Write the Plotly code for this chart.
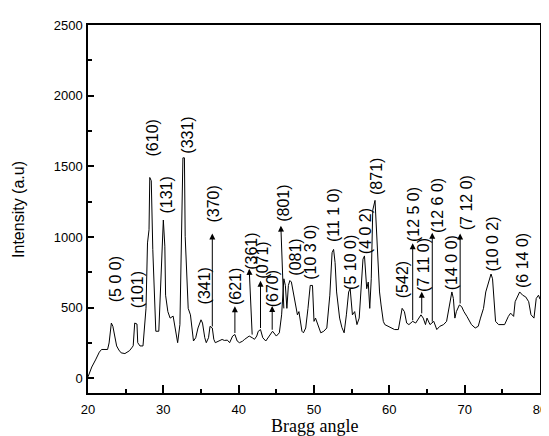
import plotly.graph_objects as go

# XRD pattern
bragg_angle = [20.0, 20.5, 21.0, 21.5, 21.8, 22.6, 22.8, 23.0, 23.1, 23.3, 23.5, 23.8, 24.1, 24.4, 24.9,
               25.5, 25.8, 26.0, 26.2, 26.5, 26.6, 26.9, 27.3, 27.4, 27.7, 27.9, 28.1, 28.2, 28.4, 28.6,
               28.8, 29.0, 29.4, 29.6, 29.8, 30.0, 30.2, 30.3, 30.6, 30.9, 31.3, 31.7, 31.9, 32.2, 32.4,
               32.6, 32.8, 32.9, 33.3, 33.6, 33.8, 34.0, 34.3, 34.6, 35.0, 35.2, 35.5, 35.7, 36.0, 36.2,
               36.5, 36.7, 36.9, 37.4, 37.8, 38.1, 38.5, 38.8, 39.2, 39.5, 39.8, 40.1, 40.5, 40.8, 41.1,
               41.4, 41.8, 42.1, 42.4, 42.6, 42.9, 43.2, 43.6, 44.1, 44.5, 45.0, 45.4, 45.7, 46.0, 46.2,
               46.4, 46.6, 46.8, 47.0, 47.3, 47.6, 47.8, 48.0, 48.2, 48.4, 48.6, 48.9, 49.2, 49.5, 49.8,
               50.0, 50.2, 50.5, 50.9, 51.3, 51.7, 52.1, 52.4, 52.6, 52.8, 53.0, 53.4, 53.7, 54.0, 54.3,
               54.6, 54.8, 55.1, 55.4, 55.7, 56.0, 56.3, 56.5, 56.7, 57.0, 57.2, 57.4, 57.6, 57.8, 58.1,
               58.3, 58.5, 58.7, 58.9, 59.2, 59.4, 59.9, 60.3, 60.7, 61.2, 61.4, 61.7, 62.0, 62.3, 62.6,
               63.1, 63.5, 63.9, 64.2, 64.5, 64.8, 65.0, 65.2, 65.4, 65.9, 66.3, 66.7, 67.2, 67.6, 68.0,
               68.3, 68.5, 68.7, 68.9, 69.3, 69.6, 69.9, 70.3, 70.6, 70.9, 71.4, 71.8, 72.1, 72.5, 72.8,
               73.2, 73.5, 73.7, 73.9, 74.1, 74.5, 74.9, 75.3, 75.8, 76.1, 76.5, 76.7, 77.3, 77.7, 78.1,
               78.5, 78.8, 79.2, 79.5, 79.8, 80.0]
intensity = [10, 80, 130, 185, 204, 204, 250, 370, 391, 368, 300, 229, 200, 180, 175,
             195, 215, 230, 391, 384, 252, 229, 229, 299, 495, 958, 1051, 1421, 1398, 912,
             681, 333, 333, 611, 935, 1120, 935, 588, 472, 426, 440, 310, 252, 380, 889,
             1560, 1560, 1005, 495, 449, 356, 264, 287, 356, 414, 391, 287, 252, 287, 368,
             356, 276, 252, 264, 275, 268, 270, 252, 299, 310, 264, 252, 262, 276, 285,
             299, 287, 276, 299, 333, 345, 287, 264, 299, 333, 299, 322, 449, 704, 657,
             495, 657, 692, 681, 588, 519, 449, 472, 403, 333, 322, 356, 495, 657, 657,
             403, 426, 380, 322, 333, 356, 588, 889, 912, 819, 611, 426, 360, 322, 449,
             611, 634, 449, 472, 380, 426, 704, 843, 866, 634, 681, 495, 704, 1190, 1259,
             1005, 773, 611, 519, 403, 380, 368, 356, 345, 345, 403, 495, 472, 391, 380,
             403, 391, 426, 449, 426, 380, 426, 403, 380, 403, 345, 368, 380, 403, 519,
             611, 565, 426, 472, 519, 507, 472, 438, 403, 380, 356, 368, 426, 495, 611,
             681, 738, 704, 565, 403, 380, 380, 380, 438, 461, 438, 542, 611, 588, 576,
             542, 450, 426, 565, 588, 560]

# Peak labels (Miller indices)
label_text = ["(5 0 0)", "(101)", "(610)", "(131)", "(331)", "(341)", "(370)", "(621)", "(361)",
              "(071)", "(670)", "(801)", "(081)", "(10 3 0)", "(11 1 0)", "(5 10 0)", "(4 0 2)",
              "(871)", "(542)", "(12 5 0)", "(7 11 0)", "(12 6 0)", "(14 0 0)", "(7 12 0)",
              "(10 0 2)", "(6 14 0)"]
label_x = [23.7, 26.6, 28.55, 30.4, 33.2, 35.4, 36.6, 39.5, 41.6,
           43.2, 44.5, 45.85, 47.6, 49.6, 52.6, 54.75, 56.75,
           58.2, 61.7, 63.2, 64.6, 66.3, 68.3, 70.2,
           73.7, 77.7]
label_y = [700, 628, 1700, 1296, 1720, 650, 1230, 652, 900,
           838, 634, 1240, 860, 895, 1152, 822, 1040,
           1430, 695, 1158, 802, 1225, 820, 1240,
           950, 835]

# Arrows: base (on the curve) -> tip
arrow_base_x = [36.5, 39.5, 41.8, 42.9, 44.45, 46.0, 63.1, 64.3, 65.7, 69.4]
arrow_base_y = [356, 310, 299, 345, 333, 484, 400, 449, 390, 519]
arrow_tip_x = [36.5, 39.5, 41.4, 42.9, 44.45, 45.6, 63.1, 64.3, 65.7, 69.4]
arrow_tip_y = [1025, 510, 775, 690, 512, 1080, 955, 612, 1030, 1025]

fig = go.Figure()
fig.add_trace(go.Scatter(x=bragg_angle, y=intensity, mode="lines",
                         line=dict(color="black", width=1), showlegend=False))

annotations = []
for t, x, y in zip(label_text, label_x, label_y):
    annotations.append(dict(x=x, y=y, xref="x", yref="y", text=t, showarrow=False,
                            textangle=-90, font=dict(family="Liberation Sans, Arial", size=16, color="black")))
for bx, by, tx, ty in zip(arrow_base_x, arrow_base_y, arrow_tip_x, arrow_tip_y):
    annotations.append(dict(x=tx, y=ty, ax=bx, ay=by, xref="x", yref="y", axref="x", ayref="y",
                            text="", showarrow=True, arrowhead=2, arrowsize=1.2, arrowwidth=1,
                            arrowcolor="black", standoff=0, startstandoff=0))
annotations.append(dict(x=0.5, y=0, xref="paper", yref="paper", yshift=-21, yanchor="top",
                        text="Bragg angle", showarrow=False,
                        font=dict(family="Liberation Serif, Times New Roman", size=18, color="black")))
annotations.append(dict(x=-0.155, y=0.5, xref="paper", yref="paper", xanchor="center",
                        text="Intensity (a.u)", showarrow=False, textangle=-90,
                        font=dict(family="Liberation Sans, Arial", size=16, color="black")))

# The page body adds an 8px offset, so margins are reduced accordingly
fig.update_layout(
    width=549, height=436,
    margin=dict(l=80, r=15, t=10, b=51),
    paper_bgcolor="white", plot_bgcolor="white",
    font=dict(family="Liberation Sans, Arial", size=13, color="black"),
    annotations=annotations,
)
fig.update_xaxes(range=[20, 80], tickvals=[20, 30, 40, 50, 60, 70, 80], ticks="inside", ticklen=8,
                 tickwidth=1.5, tickcolor="black", showline=True, linecolor="black", linewidth=1.5,
                 mirror=True, showgrid=False, zeroline=False, ticklabelstandoff=4,
                 minor=dict(tickvals=[25, 35, 45, 55, 65, 75], ticks="inside", ticklen=4, tickcolor="black", tickwidth=1.5),
                 tickfont=dict(size=13))
fig.update_yaxes(range=[-104, 2500], tickvals=[0, 500, 1000, 1500, 2000, 2500], ticks="inside", ticklen=6,
                 tickwidth=1.5, tickcolor="black", showline=True, linecolor="black", linewidth=1.5,
                 mirror=True, showgrid=False, zeroline=False, ticklabelstandoff=1,
                 minor=dict(tickvals=[250, 750, 1250, 1750, 2250], ticks="inside", ticklen=4, tickcolor="black", tickwidth=1.5),
                 tickfont=dict(size=13))

fig.write_html("out.html")
